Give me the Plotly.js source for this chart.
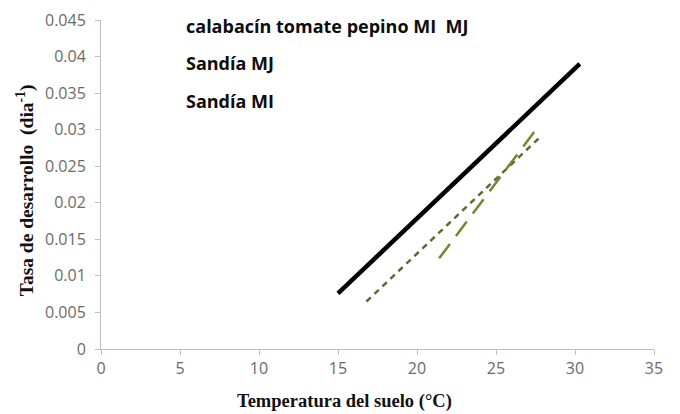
<!DOCTYPE html>
<html>
<head>
<meta charset="utf-8">
<script src="https://cdn.plot.ly/plotly-3.0.1.min.js"></script>
<style>html,body{margin:0;padding:0;background:#fff;}#chart{width:680px;height:414px;}</style>
</head>
<body>
<div id="chart"></div>
<script>
// Series
const seriesNames = ["calabacín tomate pepino MI  MJ", "Sandía MJ", "Sandía MI"];
const allX = [15.0, 30.3];
const allY = [0.0076, 0.0390];
const sandiaMJX = [16.8, 27.8];
const sandiaMJY = [0.0065, 0.0290];
const sandiaMIX = [21.4, 27.6];
const sandiaMIY = [0.0124, 0.0302];
const xTicks = [0, 5, 10, 15, 20, 25, 30, 35];
const yTicks = [0, 0.005, 0.01, 0.015, 0.02, 0.025, 0.03, 0.035, 0.04, 0.045];
const yTickText = ["0", "0.005", "0.01", "0.015", "0.02", "0.025", "0.03", "0.035", "0.04", "0.045"];
const xTitle = "Temperatura del suelo (°C)";
const yTitle = "Tasa de desarrollo  (dia<sup>-1</sup>)";

const traces = [
  {x: allX, y: allY, mode: "lines", name: seriesNames[0],
   line: {color: "#000000", width: 4.5}},
  {x: sandiaMJX, y: sandiaMJY, mode: "lines", name: seriesNames[1],
   line: {color: "#5b6b35", width: 2.5, dash: "6px,5px"}},
  {x: sandiaMIX, y: sandiaMIY, mode: "lines", name: seriesNames[2],
   line: {color: "#6f8a2e", width: 2.5, dash: "18px,10px"}}
];

const legendY = [0.982, 0.870, 0.754];
const annotations = seriesNames.map((t, i) => ({
  text: t, xref: "paper", yref: "paper", x: 0.150, y: legendY[i],
  xanchor: "left", yanchor: "middle", showarrow: false,
  font: {family: "Open Sans, sans-serif", size: 18, color: "#0d0d0d", weight: 700}
}));
annotations.push({
  text: xTitle, xref: "paper", yref: "paper", x: 0.441, y: -0.161,
  xanchor: "center", yanchor: "middle", showarrow: false,
  font: {family: "Liberation Serif, Times New Roman, serif", size: 18.5, color: "#111", weight: 700}
});
annotations.push({
  text: yTitle, xref: "paper", yref: "paper", x: -0.137, y: 0.483, textangle: -90,
  xanchor: "center", yanchor: "middle", showarrow: false,
  font: {family: "Liberation Serif, Times New Roman, serif", size: 19.5, color: "#111", weight: 700}
});

const tickFont = {family: "Open Sans, sans-serif", size: 16, color: "#6b6b6b"};
const layout = {
  width: 680, height: 414,
  margin: {l: 101, r: 26, t: 20, b: 65},
  paper_bgcolor: "#fff", plot_bgcolor: "#fff",
  showlegend: false,
  xaxis: {
    range: [0, 35], tickvals: xTicks, ticks: "outside", ticklen: 5,
    tickcolor: "#bfbfbf", showline: true, linecolor: "#bfbfbf", linewidth: 1,
    showgrid: false, zeroline: false, tickfont: tickFont
  },
  yaxis: {
    range: [0, 0.045], tickvals: yTicks, ticktext: yTickText, ticks: "outside", ticklen: 5,
    tickcolor: "#bfbfbf", showline: true, linecolor: "#bfbfbf", linewidth: 1,
    showgrid: false, zeroline: false, tickfont: tickFont, ticklabelstandoff: 6
  },
  annotations: annotations
};

Plotly.newPlot("chart", traces, layout, {staticPlot: true, displayModeBar: false});
</script>
</body>
</html>
